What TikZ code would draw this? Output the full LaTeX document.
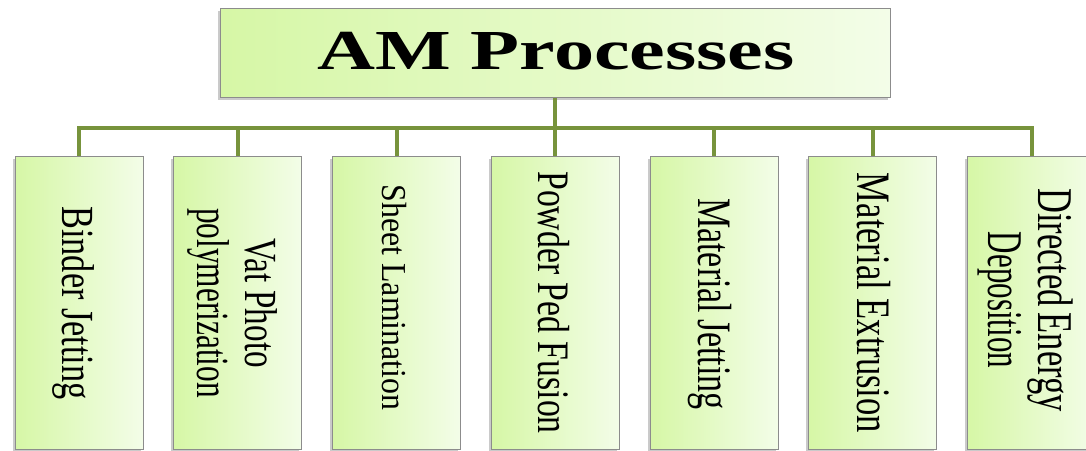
\documentclass[tikz,border=0pt]{standalone}
\usepackage{fontspec}
\setmainfont{Liberation Serif}
\usetikzlibrary{shadows,calc}

\definecolor{branch}{HTML}{77933C}
\definecolor{boxleft}{HTML}{D6F7A6}
\definecolor{boxright}{HTML}{F3FDE8}
\definecolor{boxedge}{HTML}{8C8C8C}

\tikzset{
  procbox/.style={draw=boxedge, line width=1pt,
    left color=boxleft, right color=boxright,
    drop shadow={shadow xshift=-2.5pt, shadow yshift=-2.5pt, opacity=0.35, fill=black!60},
    inner sep=0pt, minimum width=128pt, minimum height=293pt},
  headbox/.style={procbox, minimum width=670pt, minimum height=89pt},
  conn/.style={draw=branch, line width=4pt},
  vlabel/.style={rotate=-90, inner sep=0pt, font=\fontsize{46}{48}\selectfont},
}
% horizontally squeezed text and stacked lines
\newcommand\sq[2]{\scalebox{#1}[1]{#2}}
\newcommand\vlines[1]{\begin{tabular}{@{}c@{}}#1\end{tabular}}

\begin{document}
\begin{tikzpicture}[x=1pt,y=-1pt]
  \useasboundingbox (0,0) rectangle (1086,450);
  \clip (0,0) rectangle (1086,450);

  % heading
  \node[headbox] (top) at (555,52.5) {};
  \node[font=\bfseries\fontsize{56.5}{60}\selectfont, inner sep=0pt] (title) at (556,51.5)
    {\sq{1.42}{AM Processes}};

  % process boxes
  \foreach \i/\cx in {1/79,2/237.75,3/396.5,4/555.25,5/714,6/872.75,7/1031.5}
    \node[procbox] (b\i) at (\cx,302.5) {};

  % branch lines
  \coordinate (bar) at (0,127.5);
  \draw[conn] (top.south) -- (top.south |- bar);
  \draw[conn] (b1.north) -- (b1.north |- bar) -- (b7.north |- bar) -- (b7.north);
  \foreach \i in {2,...,6}
    \draw[conn] (b\i.north) -- (b\i.north |- bar);

  % labels
  \node[vlabel] (l1) at (72,303) {\vlines{\sq{0.745}{Binder Jetting}}};
  \node[vlabel] (l2) at (230.6,303) {\vlines{\sq{0.72}{Vat Photo}\\\sq{0.68}{polymerization}}};
  \node[vlabel, font=\fontsize{35}{38}\selectfont] (l3) at (390,297.5) {\vlines{\sq{0.91}{Sheet Lamination}}};
  \node[vlabel, font=\fontsize{45}{48}\selectfont] (l4) at (548,302.5) {\vlines{\sq{0.75}{Powder Ped Fusion}}};
  \node[vlabel, font=\fontsize{48}{50}\selectfont] (l5) at (708,304) {\vlines{\sq{0.71}{Material\,Jetting}}};
  \node[vlabel, font=\fontsize{48}{50}\selectfont] (l6) at (867,303) {\vlines{\sq{0.72}{Material Extrusion}}};
  \node[vlabel, font=\fontsize{50}{50}\selectfont] (l7) at (1023,300) {\vlines{\sq{0.69}{Directed\,Energy}\\\sq{0.62}{Deposition}}};
\end{tikzpicture}
\end{document}
